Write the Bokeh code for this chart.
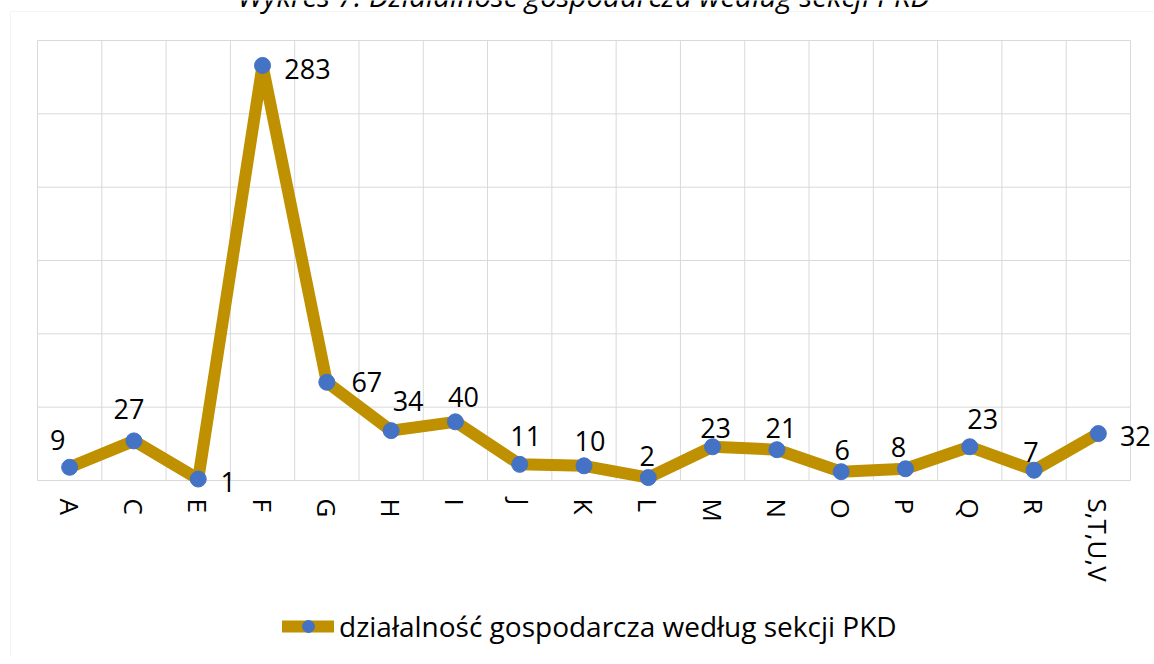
import math
from bokeh.plotting import figure
from bokeh.models import (ColumnDataSource, Range1d, Label, BoxAnnotation, Legend, LegendItem)
from bokeh.core.properties import value
from bokeh.embed import file_html
from bokeh.resources import INLINE

# ---- data ----
categories = ["A", "C", "E", "F", "G", "H", "I", "J", "K", "L", "M", "N", "O", "P", "Q", "R", "S,T,U,V"]
values = [9, 27, 1, 283, 67, 34, 40, 11, 10, 2, 23, 21, 6, 8, 23, 7, 32]
y_grid = [0, 50, 100, 150, 200, 250, 300]
series_name = "działalność gospodarcza według sekcji PKD"
title_text = "Wykres 7: Działalność gospodarcza według sekcji PKD"

# data label placement (screen pixels relative to each point; +y is down)
label_dx = [-12, -5, 30, 45, 40, 17, 8, 6, 6, -1, 3, 4, 1, -7, 13, -3, 37]
label_dy = [-27, -32, 3, 4, 0, -30, -25, -28, -25, -22, -19, -22, -22, -22, -28, -18, 2]

FONT = "Open Sans"
LINE_C = "#BF9000"
MARK_C = "#4472C4"
GRID_C = "#D9D9D9"

n = len(categories)
xpos = list(range(n))
bounds = [i - 0.5 for i in range(n + 1)]

src = ColumnDataSource(dict(x=xpos, val=values, lab=[str(v) for v in values],
                            dx=label_dx, dy=label_dy))

# frame covers the whole canvas; plot area: x px 37..1130, y px 40..480
PXX = 1093 / n
PXY = 440 / 300
p = figure(width=1154, height=656, output_backend="svg", toolbar_location=None,
           x_range=Range1d(-0.5 - 37 / PXX, -0.5 + 1117 / PXX),
           y_range=Range1d((480 - 656) / PXY, 480 / PXY),
           x_axis_location=None, y_axis_location=None,
           min_border=0, background_fill_color="white", border_fill_color="white")
p.margin = 0
p.outline_line_color = None
p.xgrid.visible = False
p.ygrid.visible = False

# chart area border
p.add_layout(BoxAnnotation(left=-0.5 - 27 / PXX, right=100, top=(480 - 11) / PXY, bottom=-500,
                           fill_color=None, line_color=GRID_C, line_width=1))

# gridlines of the plot area
p.segment(x0=[bounds[0]] * len(y_grid), x1=[bounds[-1]] * len(y_grid), y0=y_grid, y1=y_grid,
          line_color=GRID_C, line_width=1)
p.segment(x0=bounds, x1=bounds, y0=[y_grid[0]] * len(bounds), y1=[y_grid[-1]] * len(bounds),
          line_color=GRID_C, line_width=1)

# category (tick) labels
p.text(x=xpos, y=[0] * n, text=categories, angle=-math.pi / 2, y_offset=18,
       text_align="left", text_baseline="middle",
       text_font=value(FONT), text_font_size="26px", text_color="#000000")

line_r = p.line("x", "val", source=src, line_color=LINE_C, line_width=12,
                line_join="round", line_cap="round")
pts_r = p.scatter("x", "val", source=src, size=16, fill_color=MARK_C, line_color=MARK_C)

p.text("x", "val", text="lab", source=src, x_offset="dx", y_offset="dy",
       text_align="center", text_baseline="middle",
       text_font=value(FONT), text_font_size="27px", text_color="#000000")

# title (cut off at the top edge, as in the source)
p.add_layout(Label(x=(bounds[0] + bounds[-1]) / 2, y=(480 + 5) / PXY, text=title_text,
                   text_align="center", text_baseline="alphabetic",
                   text_font=FONT, text_font_style="italic", text_font_size="29.5px",
                   text_color="#000000"))

legend = Legend(items=[LegendItem(label=series_name, renderers=[line_r, pts_r])],
                location=(282, 11), orientation="horizontal",
                glyph_width=52, glyph_height=30, label_height=30, label_standoff=5,
                padding=0, margin=0, border_line_color=None, background_fill_alpha=0,
                label_text_font=FONT, label_text_font_size="28px", label_text_color="#000000")
p.add_layout(legend)

open("out.html", "w").write(file_html(p, INLINE))
